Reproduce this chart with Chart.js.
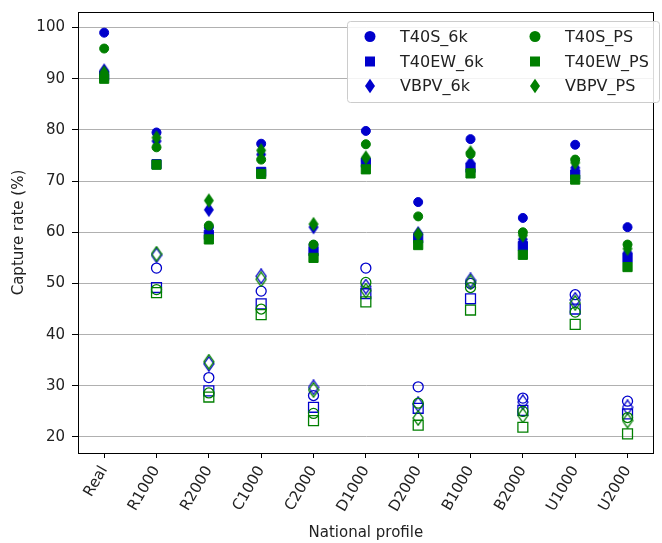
<!DOCTYPE html>
<html>
<head>
<meta charset="utf-8">
<script src="https://cdn.jsdelivr.net/npm/chart.js@4.4.0/dist/chart.umd.min.js"></script>
<style>
  body { margin: 0; background: #fff; }
  #c { display: block; }
</style>
</head>
<body>
<canvas id="c" width="662" height="543"></canvas>
<script>
// profiles on the x axis
var profiles = ["Real","R1000","R2000","C1000","C2000","D1000","D2000","B1000","B2000","U1000","U2000"];
var yTicks = [20, 30, 40, 50, 60, 70, 80, 90, 100];

// filled markers (in legend)
var t40s6k  = [99.0, 79.5, 61.0, 77.3, 57.5, 79.8, 65.9, 78.2, 62.8, 77.1, 61.0];
var t40ew6k = [90.6, 73.3, 59.5, 71.8, 56.3, 73.6, 58.8, 72.6, 57.3, 71.3, 55.0];
var vbpv6k  = [91.6, 77.8, 64.4, 75.2, 61.0, 74.0, 59.8, 73.5, 58.6, 72.6, 56.0];
var t40sps  = [95.9, 76.6, 61.3, 74.2, 57.6, 77.2, 63.1, 75.3, 60.0, 74.2, 57.6];
var t40ewps = [90.0, 73.2, 58.6, 71.4, 55.0, 72.3, 57.5, 71.5, 55.6, 70.3, 53.2];
var vbpvps  = [91.2, 78.5, 66.2, 76.0, 61.6, 74.6, 59.6, 75.6, 59.4, 73.6, 56.8];

// open markers (no legend entry)
var t40s6kOpen  = [null, 53.0, 31.6, 48.5, 28.1, 53.0, 29.8, 50.0, 27.6, 47.8, 27.0];
var t40ew6kOpen = [null, 49.2, 29.0, 46.0, 25.8, 48.0, 25.6, 47.0, 25.2, 45.0, 24.5];
var vbpv6kOpen  = [null, 55.5, 34.3, 51.4, 29.7, 49.4, 26.4, 50.6, 26.8, 46.8, 25.8];
var t40spsOpen  = [null, 48.8, 28.6, 45.0, 24.6, 50.2, 26.6, 49.2, 25.0, 44.4, 23.8];
var t40ewpsOpen = [null, 48.2, 27.8, 43.9, 23.2, 46.4, 22.3, 44.8, 21.9, 42.0, 20.6];
var vbpvpsOpen  = [null, 55.8, 34.7, 50.8, 29.2, 48.6, 23.7, 50.2, 24.2, 46.2, 23.2];

var blue = '#0000cc';
var green = '#007f00';
var FONT = "'DejaVu Sans', sans-serif";

// thin diamond like matplotlib 'd'
function diamond(color, filled){
  var c = document.createElement('canvas');
  c.width = 12; c.height = 16;
  var g = c.getContext('2d');
  g.beginPath();
  g.moveTo(6, 0.8); g.lineTo(11, 8); g.lineTo(6, 15.2); g.lineTo(1, 8);
  g.closePath();
  if (filled) { g.fillStyle = color; g.fill(); }
  else { g.strokeStyle = color; g.lineWidth = 1.3; g.stroke(); }
  return c;
}
var dBlue = diamond(blue, true), dGreen = diamond(green, true);
var dBlueOpen = diamond(blue, false), dGreenOpen = diamond(green, false);

function filled(label, data, color, style, r){
  return { label: label, data: data, showLine: false, pointStyle: style, pointRadius: r,
    backgroundColor: color, borderColor: color, pointBorderWidth: 1 };
}
function open(label, data, color, style, r){
  return { label: label, data: data, showLine: false, pointStyle: style, pointRadius: r,
    backgroundColor: 'rgba(0,0,0,0)', borderColor: color, pointBorderWidth: 1.3 };
}

var sets = [
  open('T40S_6k open', t40s6kOpen, blue, 'circle', 5),
  open('T40EW_6k open', t40ew6kOpen, blue, 'rect', 7),
  open('VBPV_6k open', vbpv6kOpen, blue, dBlueOpen, 5),
  open('T40S_PS open', t40spsOpen, green, 'circle', 5),
  open('T40EW_PS open', t40ewpsOpen, green, 'rect', 7),
  open('VBPV_PS open', vbpvpsOpen, green, dGreenOpen, 5),
  filled('T40S_6k', t40s6k, blue, 'circle', 4.5),
  filled('T40EW_6k', t40ew6k, blue, 'rect', 6.5),
  filled('VBPV_6k', vbpv6k, blue, dBlue, 5),
  filled('T40S_PS', t40sps, green, 'circle', 4.5),
  filled('T40EW_PS', t40ewps, green, 'rect', 6.5),
  filled('VBPV_PS', vbpvps, green, dGreen, 5)
];
// later datasets on top, like matplotlib
sets.forEach(function(s, i){ s.order = sets.length - i; });

var frame = {
  id: 'frame',
  afterDraw: function(chart){
    var ctx = chart.ctx, a = chart.chartArea;
    ctx.save();
    ctx.strokeStyle = '#000'; ctx.lineWidth = 1;
    ctx.strokeRect(Math.round(a.left) + 0.5, Math.round(a.top) + 0.5, Math.round(a.right - a.left) - 1, Math.round(a.bottom - a.top));
    // legend box
    var bx = 347, by = 21, bw = 312, bh = 81;
    ctx.fillStyle = 'rgba(255,255,255,0.85)';
    ctx.strokeStyle = '#cccccc';
    ctx.beginPath();
    ctx.roundRect(bx + 0.5, by + 0.5, bw, bh, 3);
    ctx.fill(); ctx.stroke();
    var legendSets = chart.data.datasets.slice(6);
    var rows = [36.5, 61.5, 86];
    ctx.font = '16px ' + FONT;
    ctx.textBaseline = 'middle';
    legendSets.forEach(function(ds, i){
      var col = Math.floor(i / 3), row = i % 3;
      var mx = col == 0 ? 370 : 535, tx = col == 0 ? 400 : 565, y = rows[row];
      ctx.fillStyle = ds.backgroundColor;
      if (ds.pointStyle == 'circle') { ctx.beginPath(); ctx.arc(mx, y, 5.5, 0, Math.PI * 2); ctx.fill(); }
      else if (ds.pointStyle == 'rect') { ctx.fillRect(mx - 5, y - 5, 10, 10); }
      else { ctx.drawImage(ds.pointStyle, mx - 6, y - 8); }
      ctx.fillStyle = '#222';
      ctx.fillText(ds.label, tx, y + 1);
    });
    ctx.restore();
  }
};

var ctx = document.getElementById('c').getContext('2d');
var chart = new Chart(ctx, {
  type: 'line',
  data: { labels: profiles, datasets: sets },
  options: {
    responsive: false,
    animation: false,
    events: [],
    layout: { padding: { top: 12, right: 1, left: 0, bottom: 0 } },
    plugins: { legend: { display: false }, tooltip: { enabled: false } },
    scales: {
      x: {
        offset: true,
        grid: { display: true, drawOnChartArea: false, tickLength: 5, tickColor: '#000', offset: false },
        border: { color: '#000' },
        ticks: { minRotation: 60, maxRotation: 60, padding: 5, color: '#222', font: { family: FONT, size: 15 } },
        title: { display: true, text: 'National profile', color: '#222', font: { family: FONT, size: 15 }, padding: { top: 0, bottom: 1 } },
        afterFit: function(s){ s.height = 543 - 453; s.paddingLeft = 0; s.paddingRight = 0; }
      },
      y: {
        min: 16.87, max: 103.04,
        afterBuildTicks: function(s){ s.ticks = yTicks.map(function(v){ return { value: v }; }); },
        grid: { color: '#b0b0b0', lineWidth: 1, tickLength: 6, tickColor: '#000' },
        border: { color: '#000' },
        ticks: { padding: 7, color: '#222', font: { family: FONT, size: 15 } },
        title: { display: true, text: 'Capture rate (%)', color: '#222', font: { family: FONT, size: 15 }, padding: { top: 10, bottom: 0 } },
        afterFit: function(s){ s.width = 78; s.paddingTop = 0; s.paddingBottom = 0; }
      }
    }
  },
  plugins: [frame]
});
</script>
</body>
</html>
